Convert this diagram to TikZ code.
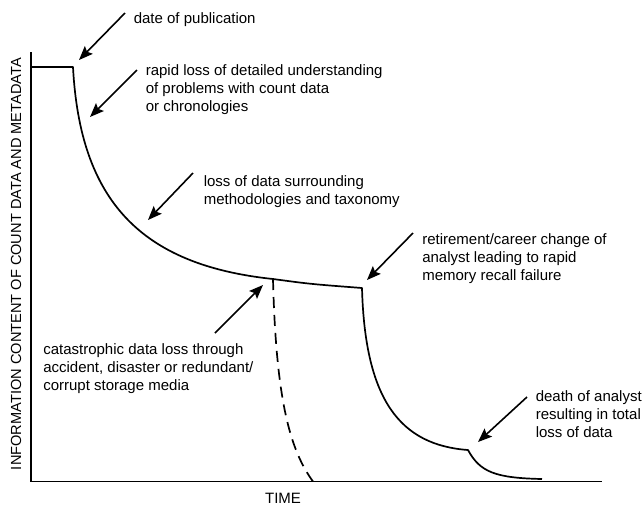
\documentclass[tikz,border=0pt]{standalone}
\usepackage{fontspec}
\setmainfont{Liberation Sans}
\usetikzlibrary{arrows.meta}

\begin{document}
\begin{tikzpicture}[x=1pt,y=-1pt,line width=1.6pt]
\tikzstyle{note}=[anchor=north west,inner sep=0pt,align=left,font=\fontsize{15}{18}\selectfont]
\tikzstyle{pointer}=[-{Stealth[length=14pt,width=11pt,inset=2.5pt]},line width=1.6pt]
\tikzstyle{decay}=[line width=1.7pt,line join=round]
\useasboundingbox (0,0) rectangle (643,507);

\coordinate (O) at (31,481.5);
\coordinate (Ytop) at (31,52);
\coordinate (Xend) at (602,481.5);
\draw[line width=1.7pt] (Ytop) -- (O) -- (Xend);

\node[font=\fontsize{14.6}{18}\selectfont,rotate=90,inner sep=0pt](ylab) at (16,264) {INFORMATION CONTENT OF COUNT DATA AND METADATA};
\node[font=\fontsize{15}{18}\selectfont,inner sep=0pt](xlab) at (283,498) {TIME};

\coordinate (start) at (31,67);
\coordinate (pubpt) at (73,67);
\coordinate (flat) at (273,279);
\coordinate (retpt) at (362,288);
\coordinate (deathpt) at (468,450);
\coordinate (endpt) at (542,479);
\coordinate (crash) at (313,481.5);

\draw[decay] (start) -- (pubpt) .. controls (80,200) and (140,265) .. (flat)
  .. controls (310,284) .. (retpt) .. controls (365,400) and (400,445) .. (deathpt)
  .. controls (480,472) and (495,478) .. (endpt);
\draw[decay,dash pattern=on 11pt off 7pt] (flat) .. controls (276,400) and (290,450) .. (crash);

\node[note](pub) at (133,12) {date of publication};
\node[note](rapid) at (145,64) {rapid loss of detailed understanding\\of problems with count data\\or chronologies};
\node[note](method) at (203,175) {loss of data surrounding\\methodologies and taxonomy};
\node[note](retire) at (421.5,233) {retirement/career change of\\analyst leading to rapid\\memory recall failure};
\node[note](cat) at (42.5,343) {catastrophic data loss through\\accident, disaster or redundant/\\corrupt storage media};
\node[note](death) at (535,390) {death of analyst\\resulting in total\\loss of data};

\coordinate (pubtail) at (125,13);
\coordinate (pubtip) at (79,60);
\coordinate (rapidtail) at (137,70);
\coordinate (rapidtip) at (90,117);
\coordinate (methodtail) at (193,173);
\coordinate (methodtip) at (148,220);
\coordinate (retiretail) at (413,233);
\coordinate (retiretip) at (367,280);
\coordinate (cattail) at (215,333);
\coordinate (cattip) at (263,285);
\coordinate (deathtail) at (527,397);
\coordinate (deathtip) at (478,442);

\draw[pointer] (pubtail) -- (pubtip);
\draw[pointer] (rapidtail) -- (rapidtip);
\draw[pointer] (methodtail) -- (methodtip);
\draw[pointer] (retiretail) -- (retiretip);
\draw[pointer] (cattail) -- (cattip);
\draw[pointer] (deathtail) -- (deathtip);
\end{tikzpicture}
\end{document}
